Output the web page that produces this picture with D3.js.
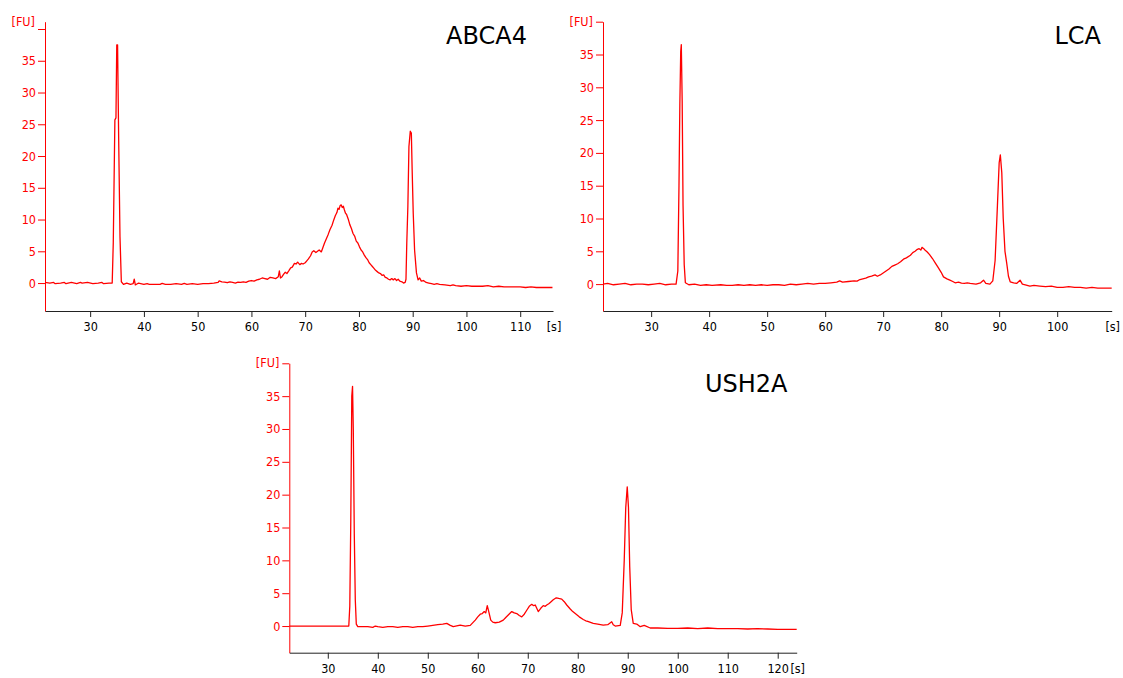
<!DOCTYPE html>
<html>
<head>
<meta charset="utf-8">
<script src="https://cdn.jsdelivr.net/npm/d3@7"></script>
<style>
  body { margin: 0; background: #fff; }
  text { font-family: "DejaVu Sans Condensed", "Liberation Sans", sans-serif; }
</style>
</head>
<body>
<div id="vis"></div>
<script>
// electropherogram traces, [time s, FU]
var abca4Trace = [
  [21.6,0.1],[22.5,0.0],[23.2,0.1],[23.5,-0.1],[24.5,0.0],[25.2,0.1],[25.5,-0.1],[26.5,0.1],[27.5,-0.1],
  [28.2,0.1],[28.5,0.0],[29.5,0.1],[30.5,-0.1],[31.5,0.0],[32.2,0.1],[32.5,-0.1],[33.5,0.0],[34.1,0.0],
  [34.3,6.3],[34.6,25.7],[34.8,26],[34.95,37.5],[35.1,37.5],[35.3,23],[35.55,7.3],[35.8,0.2],[36.2,-0.2],
  [36.8,0.0],[37.5,-0.2],[38.0,-0.1],[38.2,0.6],[38.4,-0.3],[39,0.0],[40,-0.2],[40.6,-0.1],[41,-0.2],
  [42,-0.2],[43,-0.2],[43.4,-0.05],[44,-0.2],[45,-0.2],[46,-0.1],[47,-0.2],[47.5,-0.05],[48,-0.2],
  [49,-0.1],[50,-0.2],[51,-0.1],[52,-0.1],[53,0.0],[53.8,0.1],[54,0.35],[54.5,0.2],[55,0.15],[55.5,0.05],
  [56,0.2],[56.5,0.1],[57,0.0],[57.5,0.15],[58,0.1],[58.5,0.2],[59,0.1],[59.5,0.3],[60,0.4],[60.5,0.3],
  [61,0.5],[61.5,0.6],[62,0.8],[62.5,0.7],[63,0.6],[63.5,0.9],[64,0.8],[64.5,0.7],[65,1.0],[65.2,1.9],
  [65.4,0.8],[65.7,1.0],[66,1.4],[66.3,1.7],[66.6,1.5],[67,2.0],[67.3,2.4],[67.6,2.5],[68,3.1],[68.3,3.0],
  [68.6,3.3],[69,2.9],[69.3,3.1],[69.6,3.0],[70,3.2],[70.3,3.5],[70.6,3.8],[71,4.3],[71.3,4.9],[71.6,5.1],
  [72,4.8],[72.3,5.0],[72.6,5.2],[73,4.9],[73.3,5.6],[73.6,6.3],[74,7.1],[74.3,7.7],[74.6,8.4],[75,9.1],
  [75.3,9.9],[75.6,10.6],[75.9,11.1],[76.1,11.8],[76.3,11.6],[76.5,12.2],[76.7,12.3],[76.9,11.9],
  [77.1,12.1],[77.3,11.5],[77.5,11.0],[77.7,10.8],[78,10.1],[78.3,9.2],[78.6,8.6],[78.9,7.8],[79.2,7.4],
  [79.5,6.6],[79.8,6.3],[80.1,5.7],[80.4,5.2],[80.7,4.9],[81,4.4],[81.3,4.0],[81.6,3.7],[81.9,3.2],
  [82.2,2.9],[82.5,2.6],[82.8,2.3],[83.1,2.0],[83.4,1.8],[83.7,1.6],[84,1.5],[84.3,1.2],[84.6,1.3],
  [84.9,0.9],[85.2,0.8],[85.5,0.6],[85.8,0.5],[86.1,0.7],[86.4,0.5],[86.7,0.7],[87,0.4],[87.3,0.6],
  [87.6,0.3],[88,0.2],[88.3,0.0],[88.6,0.1],[88.75,0.6],[88.9,6.3],[89.1,12],[89.3,21.5],[89.55,23.9],
  [89.75,23.6],[89.9,17.8],[90.1,11],[90.35,5.2],[90.7,1.6],[91,0.5],[91.3,0.8],[91.6,0.3],[92,0.4],
  [92.5,0.1],[93,0.0],[93.5,-0.1],[94,-0.2],[94.5,-0.1],[95,-0.2],[96,-0.3],[97,-0.4],[97.5,-0.3],
  [98,-0.4],[99,-0.5],[100,-0.4],[101,-0.5],[102,-0.5],[103,-0.5],[104,-0.4],[105,-0.6],[106,-0.5],
  [107,-0.6],[108,-0.6],[109,-0.6],[110,-0.6],[111,-0.7],[112,-0.6],[113,-0.7],[114,-0.7],[115,-0.7],
  [116,-0.7]
];

var lcaTrace = [
  [21.7,0.0],[22.5,0.1],[23.5,-0.1],[24.5,0.0],[25.5,0.1],[26.5,-0.1],[27.5,0.0],[28.5,0.0],[29.5,-0.1],
  [30.5,0.0],[31.5,0.1],[32.5,-0.1],[33.5,0.0],[34.3,0.0],[34.6,2],[34.8,15],[34.95,27.5],[35.1,35.5],
  [35.2,36.5],[35.35,28],[35.5,12],[35.7,3],[35.9,0.2],[36.5,-0.1],[37.5,0.0],[38.5,-0.2],[39.5,-0.1],
  [40.5,-0.2],[42,-0.1],[43,-0.2],[44,-0.2],[45,-0.1],[46,-0.2],[47,-0.1],[48,-0.2],[49,-0.1],[50,-0.2],
  [51,-0.1],[52,-0.1],[53,-0.2],[54,0.0],[55,-0.1],[56,0.0],[57,0.1],[58,0.0],[59,0.1],[60,0.1],
  [61,0.2],[62,0.3],[62.5,0.5],[63,0.3],[64,0.4],[65,0.5],[65.5,0.45],[66,0.7],[66.5,0.8],[67,0.9],
  [67.5,1.1],[68,1.2],[68.6,1.4],[69,1.2],[69.5,1.4],[70,1.7],[70.5,2.0],[71,2.3],[71.5,2.7],[72,2.9],
  [72.5,3.1],[73,3.4],[73.5,3.8],[74,4.0],[74.7,4.4],[75.1,4.8],[75.5,5.0],[75.9,5.3],[76.2,5.4],
  [76.5,5.2],[76.7,5.6],[77,5.4],[77.2,5.2],[77.6,4.9],[78,4.5],[78.5,3.9],[79,3.2],[79.5,2.5],[80,1.8],
  [80.4,1.1],[81,0.8],[81.5,0.6],[82,0.4],[82.4,0.2],[83,0.3],[83.5,0.15],[84,0.1],[84.5,0.2],[85,0.1],
  [86,0.0],[86.8,0.2],[87.3,0.6],[87.7,0.1],[88.4,0.0],[88.9,0.5],[89.3,3.6],[89.7,12],[90.0,18.5],
  [90.2,19.7],[90.45,17],[90.7,10],[91.0,5],[91.3,3.2],[91.6,1.2],[91.9,0.35],[92.5,0.2],[93,0.1],
  [93.6,0.6],[94,0.0],[94.5,-0.1],[95.3,-0.3],[96,-0.2],[97,-0.3],[98,-0.4],[99,-0.3],[100,-0.5],
  [101,-0.5],[102,-0.4],[103,-0.5],[104,-0.5],[105,-0.6],[106,-0.5],[107,-0.6],[108,-0.6],[109,-0.6],
  [109.4,-0.6]
];

var ush2aTrace = [
  [22.3,0],[34.2,0],[34.4,3],[34.6,16],[34.8,35],[34.95,36.5],[35.1,30],[35.3,14],[35.5,4],[35.7,0.3],
  [36,-0.1],[37,-0.1],[38,-0.1],[39,-0.2],[39.5,0.0],[40,-0.1],[41,-0.2],[42,-0.1],[43,-0.1],[44,-0.2],
  [45,-0.1],[46,-0.1],[47,-0.2],[48,-0.1],[49,-0.1],[50,0.0],[51,0.1],[52,0.2],[53,0.3],[53.8,0.4],
  [54.5,0.1],[55.1,-0.1],[56.5,0.15],[57.5,0.0],[58.5,0.1],[59.5,0.9],[60,1.4],[60.5,1.8],[60.9,1.9],
  [61.3,2.2],[61.6,2.0],[61.9,3.1],[62.2,2.2],[62.6,0.9],[63,0.6],[63.5,0.5],[64.3,0.6],[65.1,0.9],
  [65.6,1.3],[66,1.6],[66.4,1.9],[66.8,2.2],[67.3,2.0],[67.8,1.9],[68.3,1.6],[68.8,1.4],[69.3,1.8],
  [69.8,2.4],[70.3,3.0],[70.8,3.3],[71.2,3.1],[71.5,3.2],[72.1,2.2],[72.6,2.7],[73.1,3.1],[73.5,3.0],
  [73.8,3.2],[74.2,3.4],[74.5,3.6],[75.1,4.0],[75.7,4.3],[76.2,4.2],[76.8,4.1],[77.3,3.7],[77.8,3.2],
  [78.5,2.6],[79,2.2],[79.5,1.9],[80.3,1.4],[81.1,1.0],[81.6,0.8],[82,0.7],[83.1,0.4],[84,0.3],
  [85.1,0.15],[86,0.2],[86.8,0.65],[87.1,0.2],[87.5,0.0],[88.5,0.1],[88.9,2],[89.3,10],[89.6,18],
  [89.9,21.2],[90.15,18],[90.4,9],[90.7,2.5],[91.1,0.4],[91.8,0.3],[92.5,-0.1],[93.3,0.1],[94.5,-0.3],
  [96,-0.3],[98,-0.35],[100,-0.35],[102,-0.3],[104,-0.4],[106,-0.3],[108,-0.4],[110,-0.4],[112,-0.4],
  [114,-0.45],[116,-0.4],[118,-0.45],[120,-0.5],[122,-0.5],[123.8,-0.5]
];

var yTicks = [0, 5, 10, 15, 20, 25, 30, 35, 40];
var abca4XTicks = [30, 40, 50, 60, 70, 80, 90, 100, 110];
var lcaXTicks = [30, 40, 50, 60, 70, 80, 90, 100];
var ush2aXTicks = [30, 40, 50, 60, 70, 80, 90, 100, 110, 120];

var panels = [
  { title: 'ABCA4', trace: abca4Trace, xTicks: abca4XTicks,
    xDomain: [21.6, 116.1], yDomain: [-4.4, 41.15],
    left: 45, right: 553, top: 21.7, bottom: 311, titleX: 527, titleY: 44, anchor: 'end' },
  { title: 'LCA', trace: lcaTrace, xTicks: lcaXTicks,
    xDomain: [21.7, 109.4], yDomain: [-4.1, 40],
    left: 603, right: 1111.7, top: 21.7, bottom: 311, titleX: 1101, titleY: 44, anchor: 'end' },
  { title: 'USH2A', trace: ush2aTrace, xTicks: ush2aXTicks,
    xDomain: [22.3, 123.8], yDomain: [-4.06, 40],
    left: 289.3, right: 796.7, top: 363.3, bottom: 652.7, titleX: 705, titleY: 392, anchor: 'start' }
];

var svg = d3.select('#vis')
  .append('svg')
    .attr('width', 1123)
    .attr('height', 678)
    .style('background', '#fff');

panels.forEach(function(p) {
  var x = d3.scaleLinear().domain(p.xDomain).range([p.left, p.right]);
  var y = d3.scaleLinear().domain(p.yDomain).range([p.bottom, p.top]);

  var g = svg.append('g');

  // y axis, red
  var yAxis = g.append('g')
    .attr('transform', 'translate(' + p.left + ',0)')
    .call(d3.axisLeft(y)
      .tickValues(yTicks)
      .tickSize(7)
      .tickSizeOuter(0)
      .tickFormat(function(d) { return d === 40 ? '' : d; }));
  yAxis.select('.domain').attr('stroke', '#ff0000');
  yAxis.selectAll('.tick line').attr('stroke', '#ff0000');
  yAxis.selectAll('.tick text')
    .attr('fill', '#ff0000')
    .attr('x', -9)
    .style('font-size', '12.5px')
    .style('font-family', null);

  g.append('text')
    .attr('x', p.left - 10)
    .attr('y', p.top)
    .attr('dy', '0.32em')
    .attr('text-anchor', 'end')
    .attr('fill', '#ff0000')
    .style('font-size', '12.5px')
    .text('[FU]');

  // x axis, black
  var xAxis = g.append('g')
    .attr('transform', 'translate(0,' + p.bottom + ')')
    .call(d3.axisBottom(x)
      .tickValues(p.xTicks)
      .tickSize(6)
      .tickSizeOuter(0));
  xAxis.select('.domain').attr('stroke', '#222');
  xAxis.selectAll('.tick line').attr('stroke', '#222');
  xAxis.selectAll('.tick text')
    .attr('fill', '#000')
    .attr('y', 11)
    .style('font-size', '12.5px')
    .style('font-family', null);

  g.append('text')
    .attr('x', p.right + 1)
    .attr('y', p.bottom + 11)
    .attr('dy', '0.71em')
    .attr('text-anchor', 'middle')
    .attr('fill', '#000')
    .style('font-size', '12.5px')
    .text('[s]');

  var line = d3.line()
    .x(function(d) { return x(d[0]); })
    .y(function(d) { return y(d[1]); });

  g.append('path')
    .datum(p.trace)
    .attr('fill', 'none')
    .attr('stroke', '#ff0000')
    .attr('stroke-width', 1.3)
    .attr('stroke-linejoin', 'round')
    .attr('d', line);

  g.append('text')
    .attr('x', p.titleX)
    .attr('y', p.titleY)
    .attr('text-anchor', p.anchor)
    .attr('fill', '#000')
    .style('font-family', '"DejaVu Sans", sans-serif')
    .style('font-size', '24px')
    .text(p.title);
});
</script>
</body>
</html>
